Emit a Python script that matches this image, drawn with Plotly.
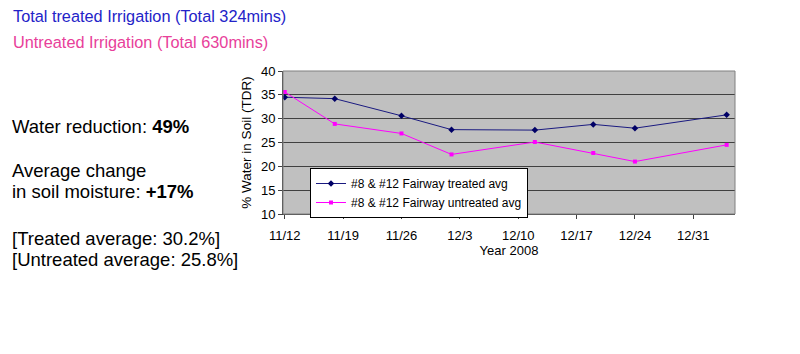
import plotly.graph_objects as go

dates = ["2008-11-12", "2008-11-18", "2008-11-26", "2008-12-02",
         "2008-12-12", "2008-12-19", "2008-12-24", "2009-01-04"]
treated = [34.5, 34.2, 30.6, 27.7, 27.6, 28.8, 28.0, 30.8]
untreated = [35.6, 28.9, 26.9, 22.5, 25.1, 22.8, 21.0, 24.5]
tick_vals = ["2008-11-12", "2008-11-19", "2008-11-26", "2008-12-03",
             "2008-12-10", "2008-12-17", "2008-12-24", "2008-12-31"]
tick_text = ["11/12", "11/19", "11/26", "12/3", "12/10", "12/17", "12/24", "12/31"]

W, H = 800, 354
L, R, T, B = 283, 735, 71, 214
pw, ph = R - L, B - T

def px(x):
    return (x - L) / pw

def py(y):
    return (B - y) / ph

FONT = "Liberation Sans, Arial, sans-serif"

fig = go.Figure()
fig.add_trace(go.Scatter(
    x=dates, y=treated, mode="lines+markers",
    name="#8 & #12 Fairway treated avg",
    line=dict(color="#1a1a80", width=1),
    marker=dict(color="#000066", size=5, symbol="diamond"),
))
fig.add_trace(go.Scatter(
    x=dates, y=untreated, mode="lines+markers",
    name="#8 & #12 Fairway untreated avg",
    line=dict(color="#ff00ff", width=1),
    marker=dict(color="#ff00ff", size=4, symbol="square"),
))

annotations = [
    dict(text="Total treated Irrigation (Total 324mins)", x=px(11), y=py(16),
         font=dict(size=16.3, color="#2323c8")),
    dict(text="Untreated Irrigation (Total 630mins)", x=px(11), y=py(42),
         font=dict(size=16.3, color="#e8409a")),
    dict(text="Water reduction: <b>49%</b>", x=px(10), y=py(126),
         font=dict(size=18.5, color="#000000")),
    dict(text="Average change", x=px(10), y=py(170),
         font=dict(size=18.5, color="#000000")),
    dict(text="in soil moisture: <b>+17%</b>", x=px(10), y=py(191),
         font=dict(size=18.5, color="#000000")),
    dict(text="[Treated average: 30.2%]", x=px(10), y=py(238),
         font=dict(size=18.5, color="#000000")),
    dict(text="[Untreated average: 25.8%]", x=px(10), y=py(259),
         font=dict(size=18.5, color="#000000")),
]
for a in annotations:
    a.update(xref="paper", yref="paper", xanchor="left", yanchor="middle",
             showarrow=False)
    a["font"]["family"] = FONT

fig.update_layout(
    width=W, height=H,
    margin=dict(l=L, r=W - R, t=T, b=H - B),
    paper_bgcolor="white",
    plot_bgcolor="#c0c0c0",
    font=dict(family=FONT, size=13, color="#000000"),
    annotations=annotations,
    showlegend=True,
    legend=dict(x=px(310), y=py(168), xanchor="left", yanchor="top",
                bgcolor="white", bordercolor="#000000", borderwidth=1,
                font=dict(size=12, family=FONT), tracegroupgap=0,
                itemwidth=30),
    shapes=[dict(type="rect", xref="paper", yref="paper", x0=0, x1=1, y0=0, y1=1,
                 line=dict(color="#808080", width=1), layer="above")],
)
fig.update_xaxes(
    range=["2008-11-11 19:00", "2009-01-05"],
    tickvals=tick_vals, ticktext=tick_text,
    showgrid=False, zeroline=False,
    showline=True, linecolor="#404040", linewidth=1,
    ticks="outside", ticklen=4, tickcolor="#404040",
    tickfont=dict(size=13), ticklabelstandoff=5,
    title=dict(text="Year 2008", font=dict(size=13), standoff=0),
)
fig.update_yaxes(
    range=[10, 40], dtick=5, tick0=10,
    showgrid=True, gridcolor="#404040", gridwidth=1, zeroline=False,
    showline=True, linecolor="#404040", linewidth=1,
    ticks="outside", ticklen=4, tickcolor="#404040",
    tickfont=dict(size=13),
    title=dict(text="% Water in Soil (TDR)", font=dict(size=13.5), standoff=6),
)

fig.write_html("out.html")
